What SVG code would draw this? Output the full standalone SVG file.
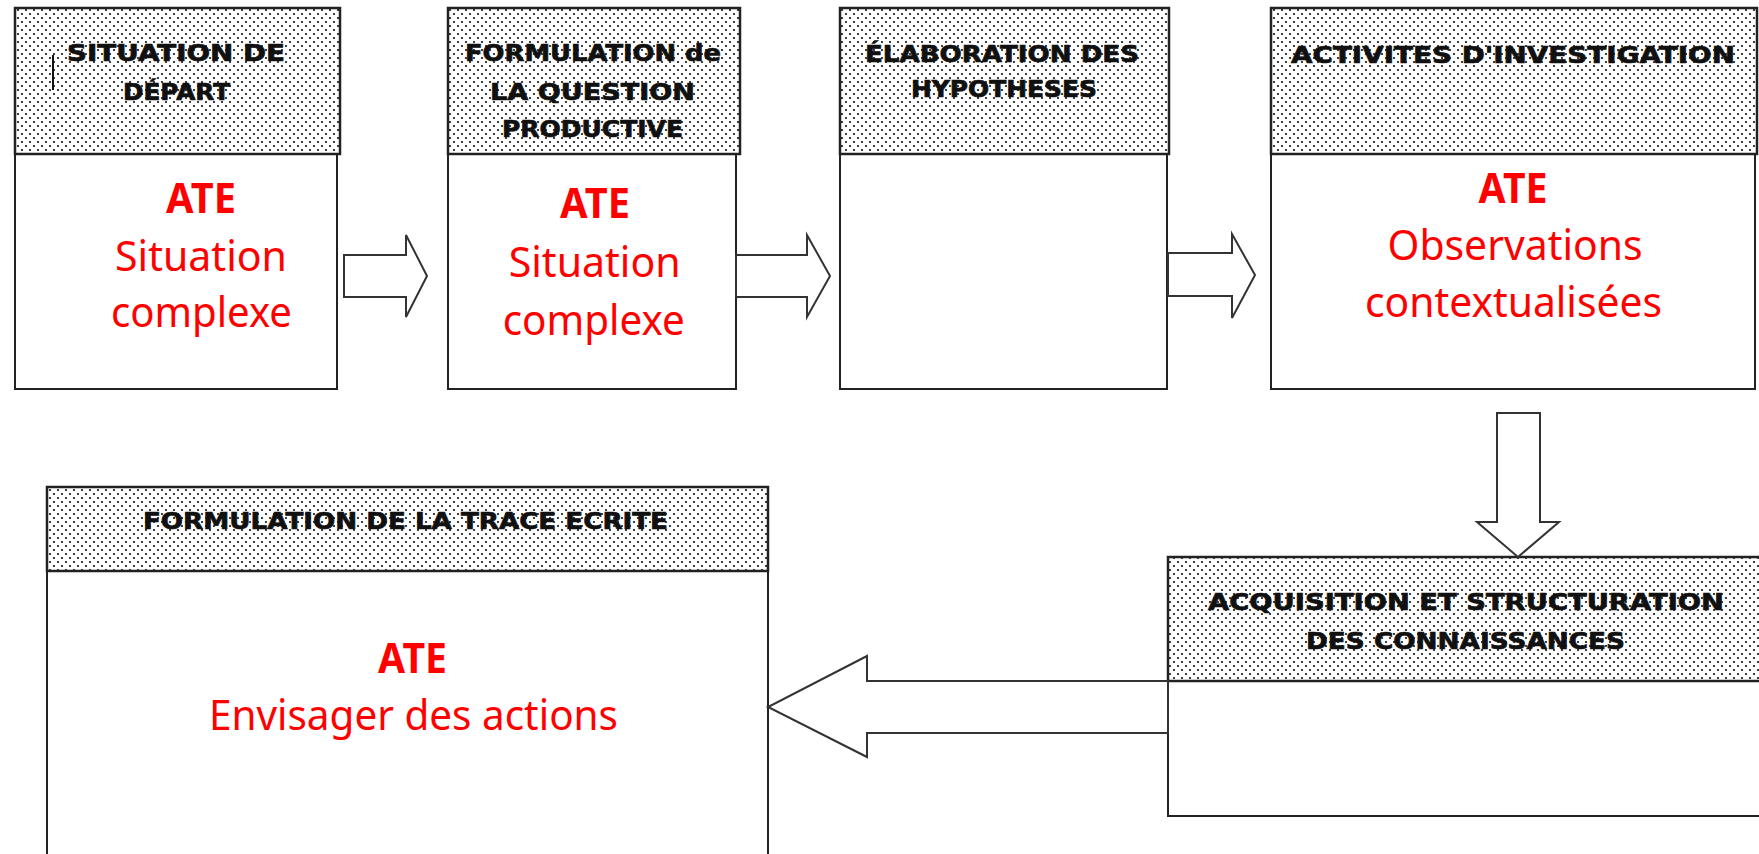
<svg xmlns="http://www.w3.org/2000/svg" width="1759" height="854" viewBox="0 0 1759 854">
<defs>
<pattern id="dots" width="8" height="8" patternUnits="userSpaceOnUse">
<rect width="8" height="8" fill="#ffffff"/>
<circle cx="2" cy="2" r="1.1" fill="#111"/>
<circle cx="6" cy="6" r="1.1" fill="#111"/>
</pattern>
</defs>
<style>
.hd{fill:url(#dots);stroke:#222;stroke-width:2.5}
.bd{fill:#ffffff;stroke:#222;stroke-width:2}
.ht{font-family:"DejaVu Sans",sans-serif;font-weight:bold;font-size:23px;fill:#111;stroke:#111;stroke-width:0.7;text-anchor:middle}
.rt{font-family:"Noto Sans","Open Sans",sans-serif;font-size:42px;fill:#ff0000;text-anchor:middle}
.rb{font-weight:bold}
.ar{fill:#ffffff;stroke:#333;stroke-width:2;stroke-linejoin:miter}
</style>
<rect width="1759" height="854" fill="#ffffff"/>

<g id="situation-depart">
<rect class="bd" x="15" y="154" width="322" height="235"/>
<rect class="hd" x="15" y="8" width="325" height="146"/>
<line x1="53" y1="55" x2="53" y2="90" stroke="#111" stroke-width="2"/>
<text class="ht" x="176" y="61" textLength="218" lengthAdjust="spacingAndGlyphs">SITUATION DE</text>
<text class="ht" x="176.5" y="100" textLength="107" lengthAdjust="spacingAndGlyphs">DÉPART</text>
<text class="rt rb" x="201" y="213" textLength="70" lengthAdjust="spacingAndGlyphs">ATE</text>
<text class="rt" x="201" y="271" textLength="172" lengthAdjust="spacingAndGlyphs">Situation</text>
<text class="rt" x="201.5" y="327" textLength="181" lengthAdjust="spacingAndGlyphs">complexe</text>
</g>

<g id="formulation-question">
<rect class="bd" x="448" y="154" width="288" height="235"/>
<rect class="hd" x="448" y="8" width="292" height="146"/>
<text class="ht" x="593" y="61" textLength="256" lengthAdjust="spacingAndGlyphs">FORMULATION de</text>
<text class="ht" x="592.5" y="100" textLength="205" lengthAdjust="spacingAndGlyphs">LA QUESTION</text>
<text class="ht" x="592.5" y="137" textLength="181" lengthAdjust="spacingAndGlyphs">PRODUCTIVE</text>
<text class="rt rb" x="595" y="218" textLength="70" lengthAdjust="spacingAndGlyphs">ATE</text>
<text class="rt" x="594.7" y="277" textLength="172" lengthAdjust="spacingAndGlyphs">Situation</text>
<text class="rt" x="593.7" y="335" textLength="182" lengthAdjust="spacingAndGlyphs">complexe</text>
</g>

<g id="elaboration-hypotheses">
<rect class="bd" x="840" y="154" width="327" height="235"/>
<rect class="hd" x="840" y="8" width="329" height="146"/>
<text class="ht" x="1002" y="62" textLength="274" lengthAdjust="spacingAndGlyphs">ÉLABORATION DES</text>
<text class="ht" x="1004" y="97" textLength="186" lengthAdjust="spacingAndGlyphs">HYPOTHESES</text>
</g>

<g id="activites-investigation">
<rect class="bd" x="1271" y="154" width="484" height="235"/>
<rect class="hd" x="1271" y="8" width="486" height="146"/>
<text class="ht" x="1513" y="63" textLength="444" lengthAdjust="spacingAndGlyphs">ACTIVITES D'INVESTIGATION</text>
<text class="rt rb" x="1513" y="203" textLength="69" lengthAdjust="spacingAndGlyphs">ATE</text>
<text class="rt" x="1515" y="260" textLength="255" lengthAdjust="spacingAndGlyphs">Observations</text>
<text class="rt" x="1513.5" y="317" textLength="297" lengthAdjust="spacingAndGlyphs">contextualisées</text>
</g>

<g id="acquisition-structuration">
<rect class="bd" x="1168" y="681" width="594" height="135"/>
<rect class="hd" x="1168" y="557" width="594" height="124"/>
<text class="ht" x="1466" y="610" textLength="516" lengthAdjust="spacingAndGlyphs">ACQUISITION ET STRUCTURATION</text>
<text class="ht" x="1465.5" y="649" textLength="319" lengthAdjust="spacingAndGlyphs">DES CONNAISSANCES</text>
</g>

<g id="formulation-trace">
<rect class="bd" x="47" y="571" width="721" height="300"/>
<rect class="hd" x="47" y="487" width="721" height="84"/>
<text class="ht" x="405.5" y="529" textLength="525" lengthAdjust="spacingAndGlyphs">FORMULATION DE LA TRACE ECRITE</text>
<text class="rt rb" x="412.5" y="673" textLength="69" lengthAdjust="spacingAndGlyphs">ATE</text>
<text class="rt" x="413.5" y="730" textLength="409" lengthAdjust="spacingAndGlyphs">Envisager des actions</text>
</g>

<g id="connectors">
<polygon class="ar" points="344,255 406,255 406,235 427,276 406,317 406,297 344,297"/>
<polygon class="ar" points="736,255 807,255 807,235 830,276 807,317 807,297 736,297"/>
<polygon class="ar" points="1168,253 1232,253 1232,234 1255,275 1232,318 1232,296 1168,296"/>
<polygon class="ar" points="1497,413 1540,413 1540,522 1559,522 1518,557 1477,522 1497,522"/>
<polygon class="ar" points="1168,681 867,681 867,656 768,707 867,757 867,733 1168,733"/>
</g>
</svg>
